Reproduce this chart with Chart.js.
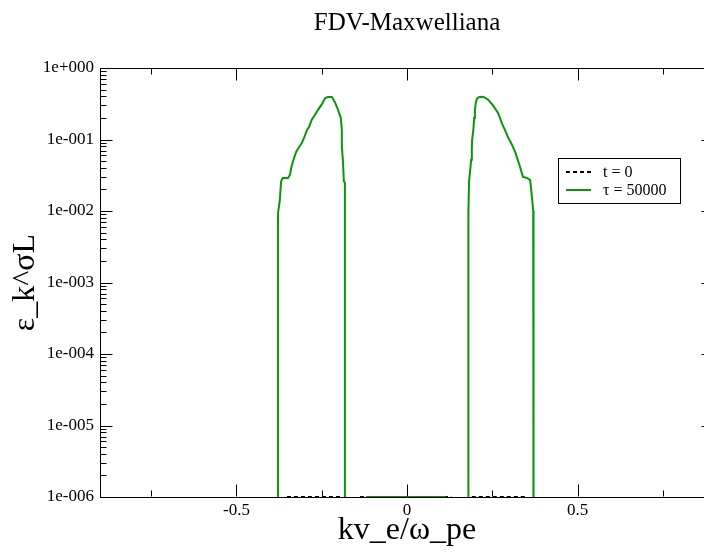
<!DOCTYPE html>
<html>
<head>
<meta charset="utf-8">
<script src="https://cdn.jsdelivr.net/npm/chart.js@4.4.1/dist/chart.umd.min.js"></script>
<style>
html,body{margin:0;padding:0;background:#fff;overflow:hidden;width:704px;height:554px;}
#wrap{position:absolute;left:0;top:0;width:720px;height:554px;}
</style>
</head>
<body>
<div id="wrap"><canvas id="c" width="720" height="554"></canvas></div>
<script>
// ---- data ----
const chartTitle = 'FDV-Maxwelliana';
const xTitle = 'kv_e/ω_pe';
const yTitle = 'ε_k^σL';
const seriesLabels = ['t = 0', 'τ = 50000'];

const xMajorTicks = [-0.5, 0, 0.5];
const xMinorTicks = [-0.75, -0.25, 0.25, 0.75];
const yDecades = [1e-6, 1e-5, 1e-4, 1e-3, 1e-2, 1e-1, 1];

// tau = 50000 (values below 1e-6 lie outside the plotted range)
const greenX = [-0.378, -0.378, -0.373, -0.369, -0.364, -0.349, -0.343, -0.340, -0.334, -0.325, -0.319, -0.308, -0.302,
  -0.293, -0.287, -0.279, -0.270, -0.261, -0.249, -0.240, -0.232, -0.220, -0.211, -0.202, -0.194, -0.191, -0.191,
  -0.188, -0.185, -0.182, -0.182,
  -0.117, -0.117, 0.111, 0.111,
  0.180, 0.180, 0.182, 0.186, 0.188, 0.190, 0.191, 0.194, 0.197, 0.199, 0.202, 0.205, 0.210, 0.218, 0.226, 0.238,
  0.252, 0.267, 0.279, 0.287, 0.296, 0.308, 0.317, 0.323, 0.331, 0.340, 0.352, 0.361, 0.364, 0.367, 0.370, 0.371];
const greenY = [1e-7, 9.4e-3, 1.4e-2, 2.6e-2, 2.9e-2, 2.9e-2, 3.2e-2, 3.9e-2, 5.0e-2, 6.7e-2, 7.5e-2, 9.0e-2, 0.105,
  0.136, 0.15, 0.19, 0.22, 0.26, 0.315, 0.38, 0.393, 0.393, 0.33, 0.26, 0.2, 0.136, 0.08,
  0.052, 0.026, 0.025, 1e-7,
  1e-7, 1e-6, 1e-6, 1e-7,
  1e-7, 1.0e-2, 2.6e-2, 4.0e-2, 5.2e-2, 7.5e-2, 0.10, 0.13, 0.2, 0.26, 0.33, 0.37, 0.39, 0.395, 0.39, 0.36,
  0.30, 0.235, 0.165, 0.136, 0.108, 0.084, 0.067, 0.055, 0.042, 0.030, 0.029, 0.027, 0.020, 0.0143, 0.010, 1e-7];

// t = 0 (only visible where it reaches the 1e-6 floor)
const t0X = [-0.352, -0.196, -0.16, -0.138, 0.130, 0.16, 0.190, 0.346];
const t0Y = [1e-6, 1e-6, null, 1e-6, 1e-6, null, 1e-6, 1e-6];

// ---- helpers ----
const FONT = "'Liberation Serif', 'Times New Roman', serif";
const zip = (xs, ys) => xs.map((x, i) => ({x: x, y: ys[i]}));
const fmtExp = v => {
  const e = Math.round(Math.log10(v));
  return '1e' + (e < 0 ? '-' : '+') + String(Math.abs(e)).padStart(3, '0');
};

const frameTicks = {
  id: 'frameTicks',
  afterDatasetsDraw(chart) {
    const {ctx, chartArea: a, scales: {x, y}} = chart;
    ctx.save();
    ctx.strokeStyle = '#000';
    ctx.lineWidth = 1;
    ctx.beginPath();
    const T = Math.round(a.top) + 0.5, B = Math.round(a.bottom) - 0.5;
    const L = Math.round(a.left) + 0.5, R = Math.round(a.right) - 0.5;
    ctx.moveTo(L, T); ctx.lineTo(R, T);
    ctx.moveTo(R, T); ctx.lineTo(R, B);
    const xt = (v, len) => {
      const p = Math.round(x.getPixelForValue(v)) + 0.5;
      ctx.moveTo(p, B); ctx.lineTo(p, B - len);
      ctx.moveTo(p, T); ctx.lineTo(p, T + len);
    };
    const yt = (v, len) => {
      const p = Math.round(y.getPixelForValue(v)) + 0.5;
      ctx.moveTo(L, p); ctx.lineTo(L + len, p);
      ctx.moveTo(R, p); ctx.lineTo(R - len, p);
    };
    xMajorTicks.forEach(v => xt(v, 12));
    xMinorTicks.forEach(v => xt(v, 6));
    yDecades.forEach((d, i) => {
      yt(d, 12);
      if (i < yDecades.length - 1) {
        for (let m = 2; m <= 9; m++) yt(d * m, 6);
      }
    });
    ctx.stroke();
    ctx.restore();
  }
};

const boxLegend = {
  id: 'boxLegend',
  afterDraw(chart) {
    const {ctx} = chart;
    const ds = chart.data.datasets;
    ctx.save();
    ctx.strokeStyle = '#000';
    ctx.lineWidth = 1;
    ctx.strokeRect(558.5, 158.5, 122, 45);
    ctx.font = '16px ' + FONT;
    ctx.textBaseline = 'middle';
    ctx.fillStyle = '#000';
    const rows = [172, 190];
    ds.forEach((d, i) => {
      const yy = rows[i];
      ctx.beginPath();
      ctx.strokeStyle = d.borderColor;
      ctx.lineWidth = 2;
      ctx.setLineDash(d.borderDash || []);
      ctx.moveTo(566, yy); ctx.lineTo(591, yy);
      ctx.stroke();
      ctx.setLineDash([]);
      ctx.fillText(d.label, 603, yy + 1);
    });
    ctx.restore();
  }
};

new Chart(document.getElementById('c'), {
  type: 'line',
  data: {
    datasets: [
      {label: seriesLabels[0], data: zip(t0X, t0Y), borderColor: '#000', borderWidth: 2,
       borderDash: [4, 3], pointRadius: 0, tension: 0, spanGaps: false, order: 1},
      {label: seriesLabels[1], data: zip(greenX, greenY), borderColor: 'rgb(10,150,10)', borderWidth: 2,
       pointRadius: 0, tension: 0, order: 0}
    ]
  },
  options: {
    responsive: false,
    animation: false,
    events: [],
    layout: {padding: {left: 0, right: 6, top: 0, bottom: 0}},
    plugins: {
      legend: {display: false},
      tooltip: {enabled: false},
      title: {
        display: true, text: chartTitle, fullSize: false, color: '#000',
        font: {family: FONT, size: 25, weight: 'normal'},
        padding: {top: 8, bottom: 30}
      }
    },
    scales: {
      x: {
        type: 'linear', min: -0.9, max: 0.9,
        afterBuildTicks: s => { s.ticks = xMajorTicks.map(v => ({value: v})); },
        afterFit: s => { s.height = 57; },
        grid: {display: false, drawTicks: false},
        border: {display: true, color: '#000', width: 1},
        ticks: {color: '#000', font: {family: FONT, size: 17}, padding: 3, autoSkip: false, maxRotation: 0,
          callback: v => (v === 0 ? '0' : String(v))},
        title: {display: true, text: xTitle, color: '#000', font: {family: FONT, size: 32},
          padding: {top: 0, bottom: 4}}
      },
      y: {
        type: 'logarithmic', min: 1e-6, max: 1,
        afterBuildTicks: s => { s.ticks = yDecades.map(v => ({value: v})); },
        afterFit: s => { s.width = 100; },
        grid: {display: false, drawTicks: false},
        border: {display: true, color: '#000', width: 1},
        ticks: {color: '#000', font: {family: FONT, size: 17}, padding: 6, autoSkip: false,
          callback: v => fmtExp(v)},
        title: {display: true, text: yTitle, color: '#000', font: {family: FONT, size: 32},
          padding: {top: 6, bottom: 0}}
      }
    }
  },
  plugins: [frameTicks, boxLegend]
});
</script>
</body>
</html>
